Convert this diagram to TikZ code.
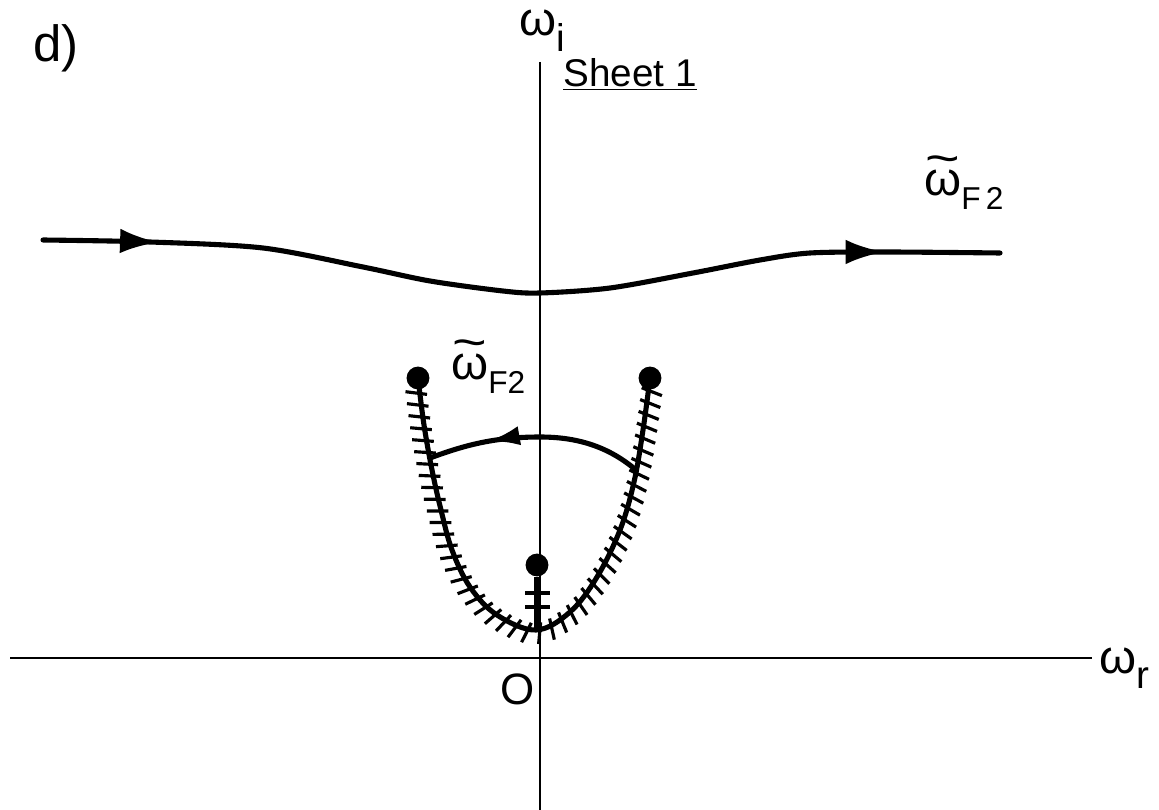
\documentclass[tikz,border=0pt]{standalone}
\usepackage{fontspec}
\setmainfont{Liberation Sans}
\usetikzlibrary{arrows.meta, positioning, decorations.markings}
\newsavebox{\wbox}
\newcommand{\tomega}{\sbox{\wbox}{ω}\makebox[\wd\wbox]{ω}\llap{\makebox[\wd\wbox]{\raisebox{0.46em}{\scalebox{1.25}[1]{\textasciitilde}}}}}
\newcommand{\subtxt}[1]{\raisebox{-0.55ex}{\fontsize{18}{20}\selectfont #1}}

\begin{document}
\begin{tikzpicture}[x=0.02cm, y=-0.02cm,
  axis/.style={line width=1.5pt},
  curve/.style={line width=2.9pt},
  pole/.style={circle, fill, inner sep=0pt, minimum size=13pt},
  lbl/.style={font=\fontsize{27}{30}\selectfont, inner sep=0pt},
  fwdtwo/.style={decoration={markings,
      mark=at position 0.12 with {\arrow{Latex[length=22pt,width=14pt]}},
      mark=at position 0.88 with {\arrow{Latex[length=22pt,width=14pt]}}}, postaction=decorate},
  fwdone/.style={decoration={markings,
      mark=at position 0.72 with {\arrow{Latex[length=18pt,width=11pt]}}}, postaction=decorate},
  cut/.style={decoration={markings,
      mark=between positions 0.025 and 0.99 step 6.8pt with {\draw[line width=1.8pt] (-1.5pt,-8pt) -- (1.5pt,4pt);}}, postaction=decorate}]
  \useasboundingbox (0,0) rectangle (1159,810);

  \coordinate (ytop) at (540,62);
  \coordinate (ybot) at (540,810);
  \coordinate (xleft) at (10,658);
  \coordinate (xright) at (1092,658);
  \draw[axis] (ytop) -- (ybot);
  \draw[axis] (xleft) -- (xright);

  \node[lbl, font=\fontsize{29}{32}\selectfont, anchor=base west] (tag) at (33,62) {d)};
  \node[lbl, anchor=base west] (wi) at (519,36) {ω\raisebox{-0.6ex}{\fontsize{22}{24}\selectfont i}};
  \node[lbl, anchor=base west] (wr) at (1099,673) {ω\raisebox{-0.6ex}{\fontsize{22}{24}\selectfont r}};
  \node[lbl, font=\fontsize{25}{28}\selectfont] (orig) at (518,689) {O};
  \node[lbl, font=\fontsize{22}{26}\selectfont, anchor=base] (sheet) at (630,87) {\underline{Sheet 1}};
  \node[lbl, anchor=base west] (ftop) at (924,196) {\tomega\subtxt{F\,2}};
  \node[lbl, anchor=base west] (fmid) at (451,380) {\tomega\subtxt{F2}};

  \coordinate (cin) at (43,240);
  \coordinate (cout) at (1000,253);
  \draw[curve, line cap=round, fwdtwo] plot[smooth, tension=0.5] coordinates {(cin) (150,242) (263,248) (363,267) (430,281) (503,291) (540,293) (610,288) (693,273) (760,260) (810,253) (887,252) (cout)};

  \node[pole] (pl) at (418,378) {};
  \node[pole] (pr) at (650,378) {};
  \node[pole] (pc) at (537,565) {};
  \coordinate (pb) at (537,628);

  \draw[curve, cut] plot[smooth, tension=0.6] coordinates {(418,378) (424,425) (432,470) (441,510) (452,550) (470,587) (497,615) (536,630) (570,612) (597,577) (620,530) (634,482) (643,430) (650,378)};

  \draw[curve] (pc) -- (pb);
  \draw[line width=1.8pt] (525,593) -- (550,593);
  \draw[line width=1.8pt] (525,607) -- (550,607);

  \coordinate (ar) at (636,470);
  \coordinate (al) at (430,458);
  \draw[curve, fwdone] (ar) .. controls (610,448) and (580,437) .. (540,437)
    .. controls (495,437) and (465,445) .. (al);
\end{tikzpicture}
\end{document}
